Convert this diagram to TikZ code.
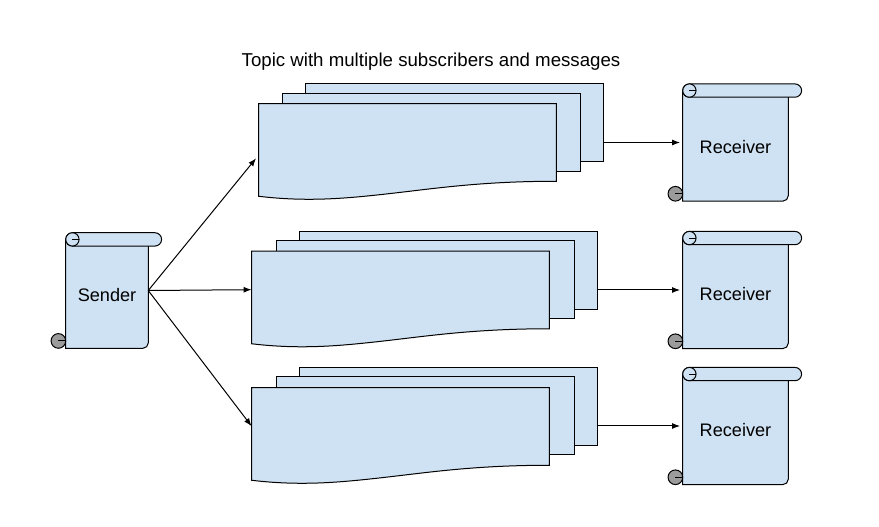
\documentclass[tikz,border=0pt]{standalone}
\usepackage{fontspec}
\setmainfont{Liberation Sans}
\usetikzlibrary{calc,arrows.meta,backgrounds}
\definecolor{pageblue}{RGB}{207,226,243}
\definecolor{curlgray}{RGB}{155,155,155}

% scroll outline around a named node
\newcommand\scrollshape[1]{%
\filldraw[outline] ($(#1.north west)+(0pt,-5pt)$) -- (#1.south west) -- ($(#1.south east)+(-4pt,0pt)$) arc[start angle=270,end angle=360,radius=4pt] -- ($(#1.north east)+(0pt,-5pt)$) -- cycle;
\filldraw[outline] ($(#1.north west)+(5pt,0pt)$) -- ($(#1.north east)+(5pt,0pt)$) arc[start angle=90,end angle=-90,radius=5pt] -- ($(#1.north west)+(5pt,-10pt)$) arc[start angle=270,end angle=90,radius=5pt] -- cycle;
\fill[curlgray] ($(#1.north west)+(0.6pt,-5pt)$) arc[start angle=180,end angle=360,radius=4.4pt] -- cycle;
\draw[outline] ($(#1.north west)+(5pt,-5pt)$) circle[radius=5pt];
\draw[outline] ($(#1.north west)+(5pt,-5pt)$) -- ($(#1.north west)+(10pt,-5pt)$);
\filldraw[outline,fill=curlgray] ($(#1.south west)+(-5.5pt,5.5pt)$) circle[radius=5.5pt];
\draw[outline] ($(#1.south west)+(-5.5pt,5.5pt)$) -- ($(#1.south west)+(0pt,5.5pt)$);
}
% front page with wavy bottom
\newcommand\frontpage[1]{%
\filldraw[outline] (#1.south west) -- (#1.north west) -- (#1.north east) -- ($(#1.south east)+(0pt,11.25pt)$) .. controls +(-55.5pt,0pt) and +(33pt,3.75pt) .. ($(#1.south west)+(100.5pt,2.25pt)$) .. controls +(-33pt,-3.75pt) and +(37.5pt,-4.5pt) .. (#1.south west) -- cycle;
}

\begin{document}
\begin{tikzpicture}[x=0.75pt, y=0.75pt,
  outline/.style={draw=black, fill=pageblue, line width=0.75pt},
  page/.style={outline, rectangle, inner sep=0pt, minimum width=223pt, minimum height=58.5pt},
  front/.style={rectangle, inner sep=0pt, minimum width=223pt, minimum height=69pt},
  scroll/.style={rectangle, inner sep=0pt, text height=16pt, text depth=0pt, minimum height=87.5pt},
  link/.style={line width=0.75pt, -{Latex[length=6pt,width=4.5pt]}},
  font=\fontsize{13.6}{16}\selectfont]
\useasboundingbox (0,0) rectangle (879,-527);

\node (title) at (431,-62) {\fontsize{14}{17}\selectfont Topic with multiple subscribers and messages};

\node[scroll, minimum width=61.5pt, minimum height=86.25pt] (snd) at (107,-290.5) {Sender};
\node[scroll, minimum width=78.75pt] (rcv1) at (735.5,-142.5) {Receiver};
\node[scroll, minimum width=78.75pt] (rcv2) at (735.5,-290) {Receiver};
\node[scroll, minimum width=78.75pt] (rcv3) at (735.5,-426) {Receiver};
\begin{scope}[on background layer]
\scrollshape{snd}
\scrollshape{rcv1}
\scrollshape{rcv2}
\scrollshape{rcv3}
\end{scope}

% topic stacks
\node[page] (top1c) at (454.5,-123){};
\node[page] (top1b) at (431.5,-133){};
\node[front] (top1a) at (407.5,-150){};
\frontpage{top1a}
\node[page] (top2c) at (448.5,-271){};
\node[page] (top2b) at (425.5,-280){};
\node[front] (top2a) at (400.5,-297.5){};
\frontpage{top2a}
\node[page] (top3c) at (448.5,-407){};
\node[page] (top3b) at (425.5,-416){};
\node[front] (top3a) at (400.5,-434){};
\frontpage{top3a}

\draw[link, shorten >=3pt](snd.east) -- (top1a.182);
\draw[link](snd.east) -- (top2a.177);
\draw[link](snd.east) -- (top3a.177);
\draw[link, shorten >=2pt](top1c.east |- rcv1.west) -- (rcv1.west);
\draw[link, shorten >=2pt](top2c.east |- rcv2.west) -- (rcv2.west);
\draw[link, shorten >=2pt](top3c.east |- rcv3.west) -- (rcv3.west);
\end{tikzpicture}
\end{document}
